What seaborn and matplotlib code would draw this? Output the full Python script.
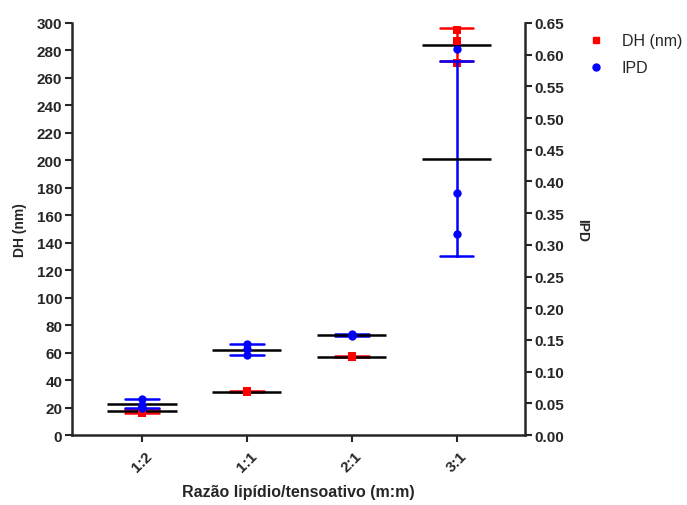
import numpy as np
import pandas as pd
import seaborn as sns
import matplotlib
matplotlib.use("Agg")
import matplotlib.pyplot as plt
from matplotlib.lines import Line2D

# valores (3 replicatas por razao)
razoes = ["1:2", "1:1", "2:1", "3:1"]
dh_nm = [[16.0, 17.5, 18.5], [31.0, 31.5, 32.0], [56.5, 57.0, 57.5], [295.0, 287.0, 271.0]]
ipd = [[0.057, 0.048, 0.043], [0.143, 0.135, 0.126], [0.156, 0.158, 0.159], [0.609, 0.382, 0.317]]

linhas = []
for r, d, p in zip(razoes, dh_nm, ipd):
    for a, b in zip(d, p):
        linhas.append({"razao": r, "DH": a, "IPD": b})
df = pd.DataFrame(linhas)

sns.set_style("ticks")
plt.rcParams["font.family"] = ["Liberation Sans", "DejaVu Sans"]
plt.rcParams["font.weight"] = "bold"

fig = plt.figure(figsize=(6.87, 5.06), dpi=100)
ax = fig.add_axes([0.1048, 0.1383, 0.764 - 0.1048, 0.9526 - 0.1383])
ax2 = ax.twinx()

pos = np.arange(len(razoes))
meia = 0.33

# DH no eixo esquerdo
sns.pointplot(data=df, x="razao", y="DH", order=razoes, errorbar="sd", capsize=0.32,
              color="red", linestyle="none", markersize=0, err_kws={"linewidth": 1.8}, ax=ax)
med_dh = df.groupby("razao", sort=False)["DH"].mean().reindex(razoes)
ax.hlines(med_dh.values, pos - meia, pos + meia, color="black", lw=1.8, zorder=4)
sns.stripplot(data=df, x="razao", y="DH", order=razoes, jitter=False, marker="s", size=6,
              color="red", linewidth=0, ax=ax, zorder=5)

# IPD no eixo direito
sns.pointplot(data=df, x="razao", y="IPD", order=razoes, errorbar="sd", capsize=0.32,
              color="blue", linestyle="none", markersize=0, err_kws={"linewidth": 1.8}, ax=ax2)
med_ipd = df.groupby("razao", sort=False)["IPD"].mean().reindex(razoes)
ax2.hlines(med_ipd.values, pos - meia, pos + meia, color="black", lw=1.8, zorder=4)
sns.stripplot(data=df, x="razao", y="IPD", order=razoes, jitter=False, marker="o", size=6,
              color="blue", linewidth=0, ax=ax2, zorder=5)

ax.set_xlim(-0.667, 3.65)
ax.set_ylim(0, 300)
ax.set_yticks(np.arange(0, 301, 20))
ax2.set_ylim(0, 0.65)
ax2.set_yticks(np.arange(0, 0.651, 0.05))
ax2.set_yticklabels([f"{v:.2f}" for v in np.arange(0, 0.651, 0.05)])

ax.set_xticks(pos)
ax.set_xticklabels(razoes, rotation=45, fontsize=11, fontweight="bold")
ax.set_xlabel("Razão lipídio/tensoativo (m:m)", fontsize=11.5, fontweight="bold", labelpad=7)
ax.set_ylabel("DH (nm)", fontsize=10, fontweight="bold", labelpad=7)
ax2.set_ylabel("IPD", fontsize=10, fontweight="bold", rotation=270, labelpad=18)
ax2.set_xlabel("")

for a in (ax, ax2):
    a.tick_params(axis="both", labelsize=11, width=1.5, length=5, pad=2)
    for s in a.spines.values():
        s.set_linewidth(1.8)
    a.spines["top"].set_visible(False)
    for t in a.get_yticklabels():
        t.set_fontweight("bold")
ax.tick_params(axis="x", pad=5)
ax.spines["right"].set_visible(False)
ax2.spines["left"].set_visible(False)
ax2.spines["bottom"].set_visible(False)

handles = [Line2D([], [], marker="s", color="red", linestyle="none", markersize=5),
           Line2D([], [], marker="o", color="blue", linestyle="none", markersize=5)]
fig.legend(handles, ["DH (nm)", "IPD"], loc="upper left", bbox_to_anchor=(574 / 687, 1 - 20 / 506),
           frameon=False, prop={"size": 11.5, "weight": "normal"}, handlelength=1.0,
           handletextpad=1.1, labelspacing=0.75)

fig.savefig("out.png", dpi=100)
